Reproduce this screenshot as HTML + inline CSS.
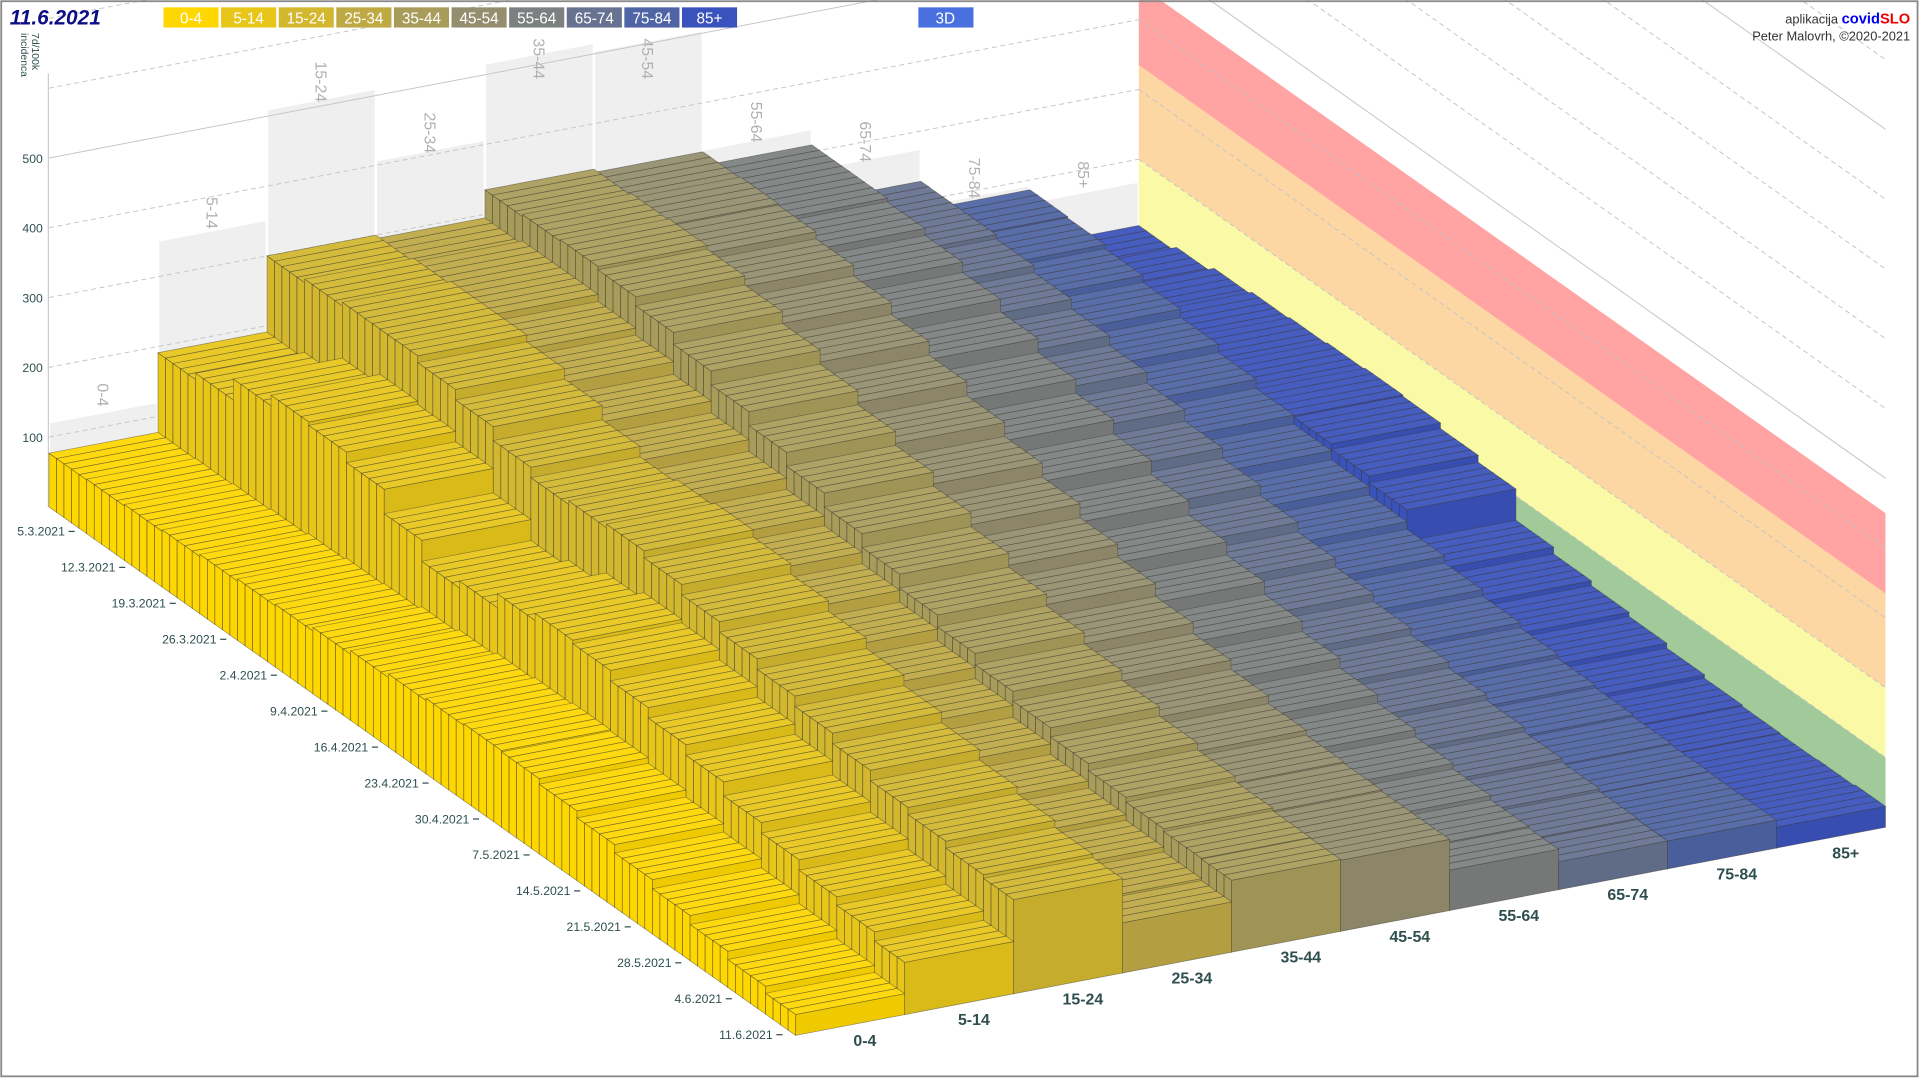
<!DOCTYPE html>
<html><head><meta charset="utf-8"><style>
html,body{margin:0;padding:0;background:#fff;}
svg{display:block;}
text{font-family:"Liberation Sans",sans-serif;}
</style></head><body>
<svg id="chart" width="1920" height="1080" viewBox="0 0 1568 882" preserveAspectRatio="none" xmlns="http://www.w3.org/2000/svg">
<rect x="0" y="0" width="1568" height="882" fill="#fff"/>
<g id="back"></g><g id="wall"></g><g id="bars"></g><g id="labels"></g>
<rect x="1" y="1" width="1565" height="878" fill="none" stroke="#8a8a8a" stroke-width="1.5"/>
<text x="8" y="20" font-size="17" font-weight="bold" fill="#0d0d85" font-style="italic">11.6.2021</text>
<g id="legend"></g>
<g><rect x="750" y="6" width="45" height="16.5" fill="#4a70df"/><text x="772" y="19" font-size="12.5" fill="#fff" text-anchor="middle">3D</text></g>
<text x="1560" y="19" font-size="10.5" fill="#333" text-anchor="end">aplikacija <tspan fill="#0000ee" font-weight="bold" font-size="12">covid</tspan><tspan fill="#ee0000" font-weight="bold" font-size="12">SLO</tspan></text>
<text x="1560" y="33" font-size="10.5" fill="#333" text-anchor="end">Peter Malovrh, ©2020-2021</text>
<text transform="translate(26,27) rotate(90)" font-size="8.5" fill="#2f4f4f"><tspan x="0" dy="0">7d/100k</tspan><tspan x="0" dy="9">incidenca</tspan></text>
</svg>
<script>
const ageGroups=["0-4","5-14","15-24","25-34","35-44","45-54","55-64","65-74","75-84","85+"];
const groupColors=["#ffd700","#e8c619","#d2b72f","#bea945","#a99c5a","#958e6e","#7d8080","#66728f","#4e64a4","#3a52bb"];
const dateLabels=["5.3.2021","12.3.2021","19.3.2021","26.3.2021","2.4.2021","9.4.2021","16.4.2021","23.4.2021","30.4.2021","7.5.2021","14.5.2021","21.5.2021","28.5.2021","4.6.2021","11.6.2021"];
const yTicks=[100,200,300,400,500];
const gridValues=[100,200,300,400,500,600,700,800,900,1000,1100,1200];
const wallBands=[0,100,200,335,450];
const wallColors=["rgba(120,180,110,0.7)","rgba(248,248,150,0.85)","rgba(252,205,140,0.8)","rgba(255,140,140,0.8)"];
const peakValues=[121,352,510,407,516,504,333,275,193,168];
// 5-day step values (day 0,5,...,95) per age group
const v04=[77,78,80,82,85,88,90,95,100,105,108,110,108,100,90,78,65,52,40,30];
const v514=[191,200,230,245,240,225,190,160,170,190,200,195,180,165,150,130,115,100,88,75];
const v1524=[300,305,310,310,300,285,265,250,255,260,250,235,220,205,190,175,160,150,140,135];
const v2534=[295,300,300,290,280,262,245,228,212,198,182,165,148,132,115,100,90,82,75,72];
const v3544=[335,338,340,335,322,305,285,265,245,225,205,185,168,152,138,125,115,108,104,103];
const v4554=[330,332,330,320,305,288,268,248,228,208,188,170,152,137,124,113,106,104,102,102];
const v5564=[310,310,305,295,280,262,242,222,202,182,162,143,125,110,96,84,74,66,60,58];
const v6574=[228,228,222,212,198,184,168,152,137,122,108,96,85,75,66,58,51,46,42,40];
const v7584=[186,184,178,168,156,144,131,118,105,93,82,72,63,56,50,46,43,41,40,40];
const v85=[105,112,120,124,126,128,130,128,120,110,65,55,48,42,35,30,28,27,28,30];
const series=[v04,v514,v1524,v2534,v3544,v4554,v5564,v6574,v7584,v85];

const NS="http://www.w3.org/2000/svg";
const DAYS=99, STEP=5;
function px(k,d){return 40+89*k+6.16*d;}
function py(k,d,v){return 414-17*k+4.36*d-v*0.57;}
function pt(k,d,v){return px(k,d).toFixed(1)+","+py(k,d,v).toFixed(1);}
function mk(tag,parent){const e=document.createElementNS(NS,tag);parent.appendChild(e);return e;}
function shade(hex,f){const n=parseInt(hex.slice(1),16);let r=n>>16,g=(n>>8)&255,b=n&255;
 if(f<0){r*=1+f;g*=1+f;b*=1+f;}else{r+=(255-r)*f;g+=(255-g)*f;b+=(255-b)*f;}
 return "rgb("+Math.round(r)+","+Math.round(g)+","+Math.round(b)+")";}

const back=document.getElementById('back');
for(let k=0;k<ageGroups.length;k++){
 const p=mk('polygon',back);
 
 
 p.setAttribute('points',[pt(k,0,0),pt(k+1,0,0),pt(k+1,0,peakValues[k]),pt(k,0,peakValues[k])].join(' '));
 p.setAttribute('fill','#efefef');p.setAttribute('stroke','#fff');p.setAttribute('stroke-width','2');
 const t=mk('text',back);
 
 
 const cx=px(k+0.5,0), cy=Math.max(48,py(k+0.5,0,peakValues[k])-14);
 t.setAttribute('transform','translate('+(cx-5)+','+cy+') rotate(90)');
 t.setAttribute('font-size','13');t.setAttribute('fill','#b0b0b0');t.setAttribute('text-anchor','middle');
 t.textContent=ageGroups[k];
}
for(const v of gridValues){
 const l=mk('line',back);
 
 
 l.setAttribute('x1',px(0,0));l.setAttribute('y1',py(0,0,v));l.setAttribute('x2',px(10,0));l.setAttribute('y2',py(10,0,v));
 l.setAttribute('stroke','#c6c6c6');l.setAttribute('stroke-width','0.8');
 if(v%500!==0)l.setAttribute('stroke-dasharray','4,3');
}
const ax=mk('line',back);


ax.setAttribute('x1',39.5);ax.setAttribute('y1',60);ax.setAttribute('x2',39.5);ax.setAttribute('y2',414);ax.setAttribute('stroke','#ccc');
for(const v of yTicks){
 const t=mk('text',back);
 
 
 t.setAttribute('x',35);t.setAttribute('y',py(0,0,v)+4);t.setAttribute('font-size','10');t.setAttribute('fill','#2f4f4f');t.setAttribute('text-anchor','end');
 t.textContent=v;
}
const wall=document.getElementById('wall');
for(let i=0;i<wallColors.length;i++){
 const p=mk('polygon',wall);
 
 
 p.setAttribute('points',[pt(10,0,wallBands[i]),pt(10,DAYS,wallBands[i]),pt(10,DAYS,wallBands[i+1]),pt(10,0,wallBands[i+1])].join(' '));
 p.setAttribute('fill',wallColors[i]);
}
for(const v of gridValues){
 const l=mk('line',wall);
 
 
 l.setAttribute('x1',px(10,0));l.setAttribute('y1',py(10,0,v));l.setAttribute('x2',px(10,DAYS));l.setAttribute('y2',py(10,DAYS,v));
 l.setAttribute('stroke','#c4c4c4');l.setAttribute('stroke-width','0.8');
 if(v%500!==0)l.setAttribute('stroke-dasharray','4,3');
}
const bars=document.getElementById('bars');
for(let k=ageGroups.length-1;k>=0;k--){
 const g=mk('g',bars);
 
 
 const c=groupColors[k], cTop=shade(c,0.06), cFront=shade(c,-0.06);
 for(let d=0;d<DAYS;d++){
  const v=series[k][Math.min(series[k].length-1,Math.floor(d/STEP))];
  const bg=mk('g',g);
  
  
  bg.setAttribute('stroke','rgba(60,60,50,0.5)');bg.setAttribute('stroke-width','0.6');
  const left=mk('polygon',bg);
  left.setAttribute('points',[pt(k,d,0),pt(k,d+1,0),pt(k,d+1,v),pt(k,d,v)].join(' '));left.setAttribute('fill',c);
  const front=mk('polygon',bg);
  front.setAttribute('points',[pt(k,d+1,0),pt(k+1,d+1,0),pt(k+1,d+1,v),pt(k,d+1,v)].join(' '));front.setAttribute('fill',cFront);
  const top=mk('polygon',bg);
  top.setAttribute('points',[pt(k,d,v),pt(k+1,d,v),pt(k+1,d+1,v),pt(k,d+1,v)].join(' '));top.setAttribute('fill',cTop);
 }
}
const lab=document.getElementById('labels');
for(let i=0;i<dateLabels.length;i++){
 const f=i/(dateLabels.length-1);
 const x=60+f*(638-60), y=434+f*(845-434);
 const t=mk('text',lab);
 
 
 t.setAttribute('x',x-7);t.setAttribute('y',y+3.5);t.setAttribute('font-size','10');t.setAttribute('fill','#2f4f4f');t.setAttribute('text-anchor','end');
 t.textContent=dateLabels[i];
 const tk=mk('line',lab);
 
 
 tk.setAttribute('x1',x-4);tk.setAttribute('y1',y);tk.setAttribute('x2',x+1);tk.setAttribute('y2',y);tk.setAttribute('stroke','#2f4f4f');
}
for(let k=0;k<ageGroups.length;k++){
 const t=mk('text',lab);
 
 
 t.setAttribute('x',px(k+0.5,DAYS)+12);t.setAttribute('y',py(k+0.5,DAYS,0)+17);
 t.setAttribute('font-size','13');t.setAttribute('font-weight','bold');t.setAttribute('fill','#2f4f4f');t.setAttribute('text-anchor','middle');
 t.textContent=ageGroups[k];
}
const leg=document.getElementById('legend');
for(let k=0;k<ageGroups.length;k++){
 const g=mk('g',leg);
 
 
 const x=133.5+k*47.05;
 const r=mk('rect',g);
 r.setAttribute('x',x);r.setAttribute('y',6);r.setAttribute('width',45);r.setAttribute('height',16.5);r.setAttribute('fill',groupColors[k]);
 const t=mk('text',g);
 t.setAttribute('x',x+22.5);t.setAttribute('y',19);t.setAttribute('font-size','12.5');t.setAttribute('fill','#fff');t.setAttribute('text-anchor','middle');
 t.textContent=ageGroups[k];
}
</script>
</body></html>
